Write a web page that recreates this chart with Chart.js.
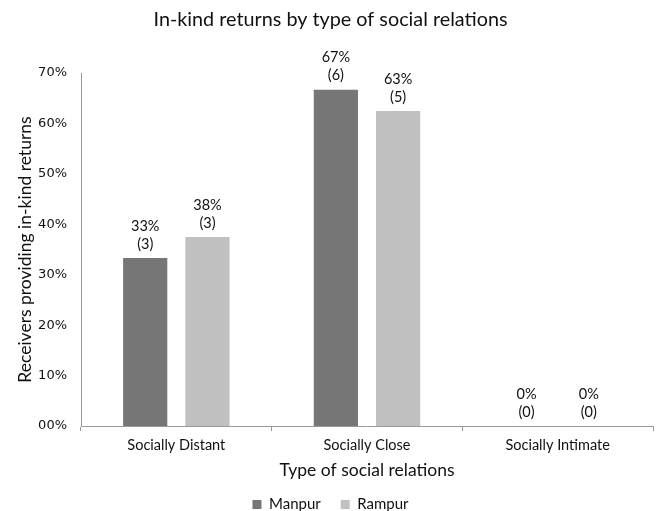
<!DOCTYPE html>
<html><head><meta charset="utf-8">
<script src="https://cdn.jsdelivr.net/npm/chart.js@4.4.0/dist/chart.umd.min.js"></script>
<style>html,body{margin:0;padding:0;background:#fff}#wrap{width:659px;height:511px}</style>
</head><body><div id="wrap"><canvas id="c"></canvas></div>
<script>
const categories = ["Socially Distant", "Socially Close", "Socially Intimate"];
const manpurPct = [33.3, 66.7, 0];
const rampurPct = [37.5, 62.5, 0];
const manpurN = [3, 6, 0];
const rampurN = [3, 5, 0];
const yTicks = ["00%", "10%", "20%", "30%", "40%", "50%", "60%", "70%"];

const labelPlugin = {
  id: 'barLabels',
  afterDatasetsDraw(chart) {
    const ctx = chart.ctx;
    const counts = [manpurN, rampurN];
    ctx.save();
    ctx.fillStyle = '#111';
    ctx.font = '14.5px Lato';
    ctx.textAlign = 'center';
    ctx.textBaseline = 'middle';
    chart.data.datasets.forEach((ds, di) => {
      const meta = chart.getDatasetMeta(di);
      meta.data.forEach((bar, i) => {
        const v = ds.data[i];
        const x = bar.x, y = bar.y;
        ctx.fillText(Math.round(v) + '%', x, y - 32);
        ctx.fillText('(' + counts[di][i] + ')', x, y - 14);
      });
    });
    ctx.restore();
  }
};

new Chart(document.getElementById('c'), {
  type: 'bar',
  data: {
    labels: categories,
    datasets: [
      { label: 'Manpur', data: manpurPct, backgroundColor: '#767676' },
      { label: 'Rampur', data: rampurPct, backgroundColor: '#c0c0c0' }
    ]
  },
  plugins: [labelPlugin],
  options: {
    responsive: true,
    maintainAspectRatio: false,
    animation: false,
    devicePixelRatio: 1,
    layout: { padding: { left: 8, right: 6, top: 0, bottom: -11 } },
    datasets: { bar: { categoryPercentage: 0.653, barPercentage: 0.71 } },
    plugins: {
      title: {
        display: true,
        text: 'In-kind returns by type of social relations',
        color: '#111',
        font: { family: 'Lato', size: 19.8, weight: 'normal' },
        padding: { top: 8, bottom: 41.3 }
      },
      legend: {
        position: 'bottom',
        labels: {
          color: '#111',
          font: { family: 'Lato', size: 15 },
          boxWidth: 9, boxHeight: 9, padding: 20
        }
      },
      tooltip: { enabled: false }
    },
    scales: {
      x: {
        grid: { display: true, drawOnChartArea: false, offset: true, color: '#999', tickLength: 5 },
        border: { display: true, color: '#999' },
        ticks: { color: '#111', font: { family: 'Lato', size: 14.5 }, padding: 6 },
        title: { display: true, text: 'Type of social relations', color: '#111',
                 font: { family: 'Lato', size: 17.5 }, padding: { top: 0, bottom: -3.5 } },
        afterFit: (s) => { s.height = 51; }
      },
      y: {
        min: 0, max: 70,
        grid: { display: false, drawTicks: false },
        border: { display: true, color: '#999' },
        ticks: { stepSize: 10, color: '#111', font: { family: 'DejaVu Sans', size: 13 }, padding: 14,
                 callback: (v, i) => yTicks[i] },
        title: { display: true, text: 'Receivers providing in-kind returns', color: '#111',
                 font: { family: 'Lato', size: 17.5 }, padding: { top: 6.5, bottom: 0 } },
        afterFit: (s) => { s.width = 73; }
      }
    }
  }
});
</script></body></html>
